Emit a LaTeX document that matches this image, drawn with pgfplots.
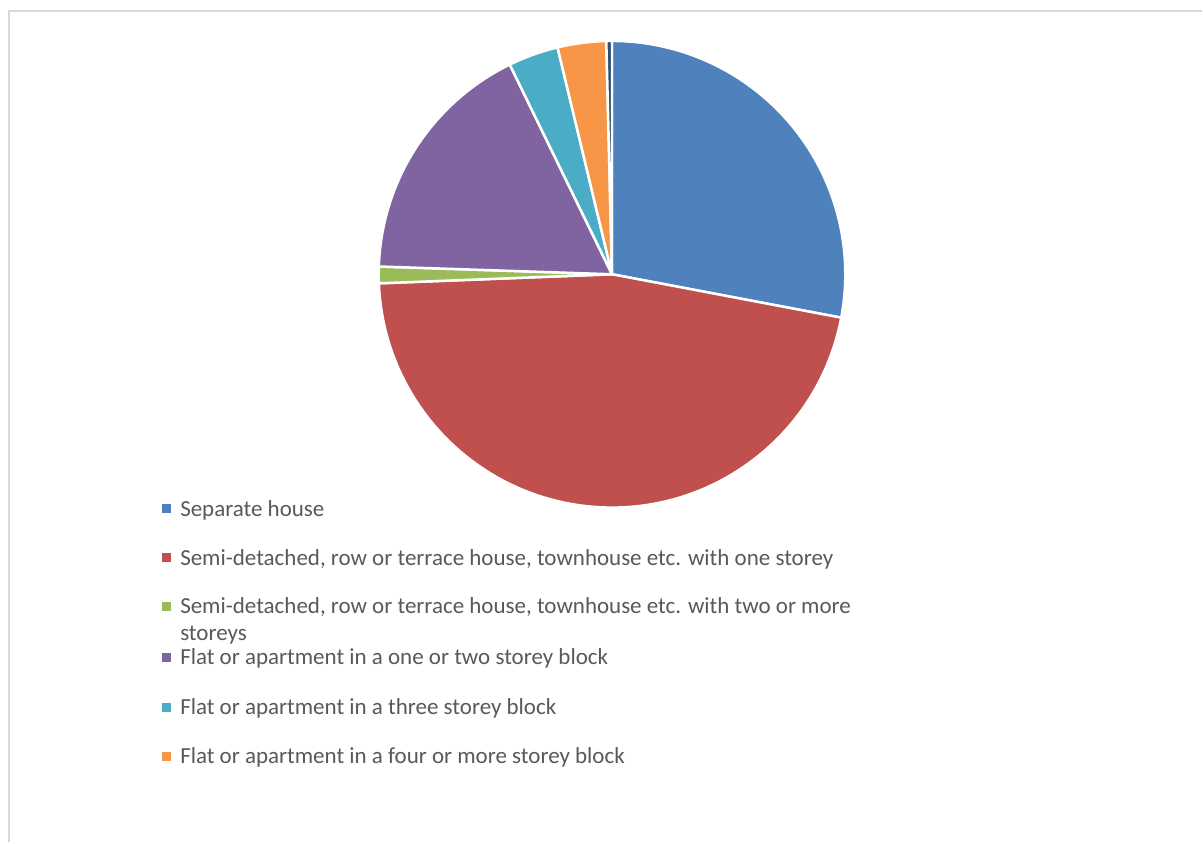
\documentclass[border=0pt]{standalone}
\usepackage{pgfplots}
\pgfplotsset{compat=1.18}
\usepackage{pgfplotstable}
\usepackage{fontspec}
\setmainfont{Carlito}
\definecolor{c1}{HTML}{4F81BD}
\definecolor{c2}{HTML}{C0504D}
\definecolor{c3}{HTML}{9BBB59}
\definecolor{c4}{HTML}{8064A2}
\definecolor{c5}{HTML}{4BACC6}
\definecolor{c6}{HTML}{F79646}
\definecolor{c7}{HTML}{2C4D75}
\definecolor{textgray}{HTML}{595959}
\definecolor{framegray}{HTML}{D9D9D9}
% share of each dwelling type (percent), clockwise from 12 o'clock
\pgfplotstableread{
value color
27.98 c1
46.40 c2
1.15  c3
17.25 c4
3.47  c5
3.36  c6
0.39  c7
}\piedata
\begin{document}
\begin{tikzpicture}
\begin{axis}[scale only axis, width=601.5pt, height=421.5pt,
  xmin=0, xmax=1203, ymin=0, ymax=843, hide axis, clip=false]
\fill[white] (axis cs:0,0) rectangle (axis cs:1203,843);
\draw[framegray, line width=1pt] (axis cs:9,0) -- (axis cs:9,832) -- (axis cs:1203,832);
% pie slices
\def\cum{0}
\pgfplotsforeachungrouped \i in {0,...,6}{%
  \pgfplotstablegetelem{\i}{value}\of\piedata \let\sliceval\pgfplotsretval
  \pgfplotstablegetelem{\i}{color}\of\piedata \let\slicecol\pgfplotsretval
  \pgfmathsetmacro{\sa}{90-3.6*\cum}%
  \pgfmathsetmacro{\sb}{90-3.6*(\cum+\sliceval)}%
  \edef\temp{\noexpand\filldraw[fill=\slicecol, draw=white, line width=1.25pt, line join=round]
    (axis cs:612.5,568.5) -- ++(\sa:116.75pt) arc[start angle=\sa, end angle=\sb, radius=116.75pt] -- cycle;}%
  \temp
  \pgfmathsetmacro{\cum}{\cum+\sliceval}%
}
% legend
\tikzset{lg/.style={anchor=base west, inner sep=0pt, text=textgray, font=\fontsize{11.5pt}{13.5pt}\selectfont}}
\fill[c1] (axis cs:162,329.5) rectangle (axis cs:171,338.5);
\node[lg] at (axis cs:180,326.5) {Separate house};
\fill[c2] (axis cs:162,280.5) rectangle (axis cs:171,289.5);
\node[lg] at (axis cs:180,277.5) {Semi-detached, row or terrace house, townhouse etc. with one storey};
\fill[c3] (axis cs:162,231.5) rectangle (axis cs:171,240.5);
\node[lg] at (axis cs:180,228.5) {Semi-detached, row or terrace house, townhouse etc. with two or more};
\node[lg] at (axis cs:180,201.5) {storeys};
\fill[c4] (axis cs:162,180.5) rectangle (axis cs:171,189.5);
\node[lg] at (axis cs:180,177.5) {Flat or apartment in a one or two storey block};
\fill[c5] (axis cs:162,130.5) rectangle (axis cs:171,139.5);
\node[lg] at (axis cs:180,127.5) {Flat or apartment in a three storey block};
\fill[c6] (axis cs:162,81.5) rectangle (axis cs:171,90.5);
\node[lg] at (axis cs:180,78.5) {Flat or apartment in a four or more storey block};
\end{axis}
\end{tikzpicture}
\end{document}
